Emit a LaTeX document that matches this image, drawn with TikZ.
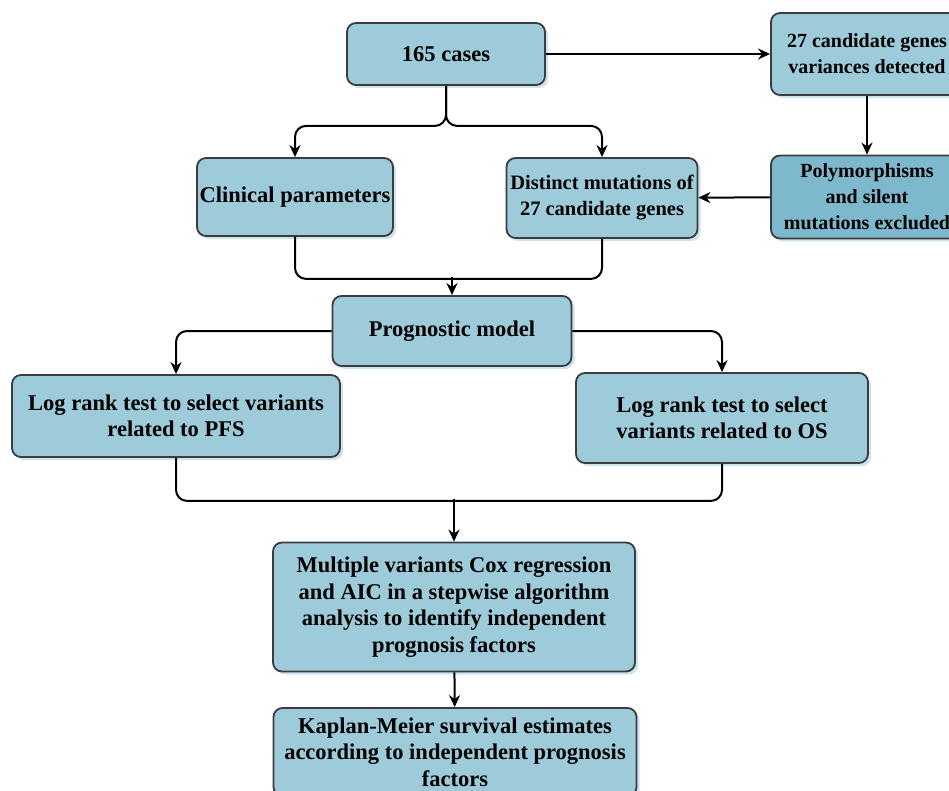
\documentclass[tikz,border=0pt]{standalone}
\usepackage{fontspec}
\setmainfont{Liberation Serif}
\usepackage{tikz}
\usetikzlibrary{arrows.meta, positioning, shadows}
\definecolor{boxblue}{RGB}{157,203,218}
\definecolor{boxdeep}{RGB}{125,184,204}
\definecolor{boxline}{RGB}{60,60,64}
\definecolor{boxshade}{RGB}{205,228,236}
\tikzset{
  flowbox/.style={rectangle, draw=boxline, fill=boxblue, align=center,
    font=\fontsize{22.5}{26.5}\selectfont\bfseries, rounded corners=9pt, line width=1.8pt,
    inner sep=1pt, drop shadow={shadow xshift=3pt, shadow yshift=-3pt, fill=boxshade, opacity=1}},
  deepbox/.style={flowbox, fill=boxdeep},
  narrowtext/.style={font=\fontsize{20}{26}\selectfont\bfseries},
  arrow/.style={-{Stealth[length=12pt, width=11pt]}, line width=2pt, rounded corners=11pt},
  line/.style={line width=2pt, rounded corners=11pt}
}

\begin{document}
\begin{tikzpicture}[x=1pt, y=-1pt]
  \useasboundingbox (0,0) rectangle (949,791);
  \clip (0,0) rectangle (949,791);

  \node[flowbox, minimum width=198pt, minimum height=62pt] (cases) at (446,54) {165 cases};
  \node[flowbox, narrowtext, minimum width=192pt, minimum height=82pt] (cand) at (867,54) {27 candidate genes\\variances detected};
  \node[deepbox, narrowtext, minimum width=192pt, minimum height=83pt] (poly) at (867,197) {Polymorphisms\\and silent\\mutations excluded};
  \node[flowbox, minimum width=196pt, minimum height=78pt] (clin) at (295,197) {Clinical parameters};
  \node[flowbox, font=\fontsize{20.5}{26}\selectfont\bfseries, minimum width=191pt, minimum height=80pt] (dist) at (602,198) {Distinct mutations of\\27 candidate genes};
  \node[flowbox, minimum width=239pt, minimum height=70pt] (prog) at (452,331) {Prognostic model};
  \node[flowbox, minimum width=328pt, minimum height=82pt] (pfs) at (176,416) {Log rank test to select variants\\related to PFS};
  \node[flowbox, minimum width=292pt, minimum height=90pt] (os) at (722,418) {Log rank test to select\\variants related to OS};
  \node[flowbox, minimum width=362pt, minimum height=129pt] (cox) at (454,607) {Multiple variants Cox regression\\and AIC in a stepwise algorithm\\analysis to identify independent\\prognosis factors};
  \node[flowbox, minimum width=363pt, minimum height=88pt] (km) at (455,752) {Kaplan-Meier survival estimates\\according to independent prognosis\\factors};

  \draw[arrow] (cases) -- (cand);
  \draw[arrow] (cand) -- (poly);
  \draw[arrow] (poly) -- (dist);
  \draw[arrow] (cases.south) -- ++(0,40) -| (clin.north);
  \draw[arrow] (cases.south) -- ++(0,40) -| (dist.north);
  % merge into the model
  \draw[line] (clin.south) |- ++(158,42) coordinate (mergeA);
  \draw[line] (dist.south) |- ++(-149,40) coordinate (mergeB);
  \draw[arrow] (prog.north) ++(0,-18) -- (prog.north);
  \draw[arrow] (prog.west) -| (pfs.north);
  \draw[arrow] (prog.east) -| (os.north);
  \draw[line] (pfs.south) |- ++(278,43) coordinate (mergeC);
  \draw[line] (os.south) |- ++(-268,37) coordinate (mergeD);
  \draw[arrow] (cox.north) ++(0,-43) -- (cox.north);
  \draw[arrow] (cox) -- (km);
\end{tikzpicture}
\end{document}
